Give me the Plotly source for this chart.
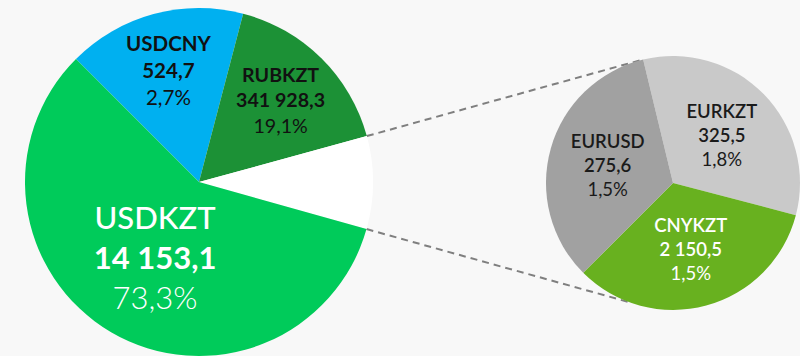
import plotly.graph_objects as go
import math

# ---- data -------------------------------------------------------------
main_pairs = ["USDCNY", "RUBKZT", "Other", "USDKZT"]
main_volume = [524.7, 341928.3, None, 14153.1]
main_percent = [2.7, 19.1, None, 73.3]
main_sweep = [59.7, 60.0, 31.0, 209.3]          # drawn sector sizes, degrees
main_colors = ["#00b0f0", "#1c9136", "#ffffff", "#00cb5a"]

detail_pairs = ["EURKZT", "CNYKZT", "EURUSD"]
detail_volume = [325.5, 2150.5, 275.6]
detail_percent = [1.8, 1.5, 1.5]
detail_sweep = [118.3, 120.3, 121.4]            # drawn sector sizes, degrees
detail_colors = ["#c9c9c9", "#68b11f", "#a1a1a1"]

# ---- layout geometry (pixels) ----------------------------------------
W, H = 800, 356
MAIN_C, MAIN_R, MAIN_START = (199, 182), 174, -45.0
DET_C, DET_R, DET_START = (673, 183), 127, -13.6
LINK_TARGET_ANGLES = [345.0, 200.4]


def fmt(v, decimals=1):
    s = f"{v:,.{decimals}f}"
    return s.replace(",", " ").replace(".", ",")


def domain(center, r):
    cx, cy = center
    return dict(x=[max(0, (cx - r) / W), min(1, (cx + r) / W)],
                y=[max(0, (H - cy - r) / H), min(1, (H - cy + r) / H)])


def label(pair, vol, pct, big=False):
    if vol is None:
        return ""
    if big:
        return (f"<span style='font-weight:500'>{pair}</span><br>"
                f"<b>{fmt(vol)}</b><br>"
                f"<span style='font-weight:300'>{fmt(pct)}%</span>")
    return f"<b>{pair}</b><br><b>{fmt(vol)}</b><br>{fmt(pct)}%"


main_text = [label(p, v, c, big=(p == "USDKZT"))
             for p, v, c in zip(main_pairs, main_volume, main_percent)]
detail_text = [f"<span style='font-weight:600'>{p}</span><br>"
               f"<span style='font-weight:600'>{fmt(v)}</span><br>{fmt(c)}%"
               for p, v, c in zip(detail_pairs, detail_volume, detail_percent)]

fig = go.Figure()

fig.add_trace(go.Pie(
    labels=main_pairs, values=main_sweep, text=main_text,
    textinfo="text", textposition="inside", insidetextorientation="horizontal",
    sort=False, direction="clockwise", rotation=MAIN_START,
    marker=dict(colors=main_colors, line=dict(width=0)),
    textfont=dict(family="Lato", size=[21, 21, 21, 31],
                  color=["#111111", "#111111", "#111111", "#ffffff"]),
    domain=domain(MAIN_C, MAIN_R), hoverinfo="skip", showlegend=False,
))

fig.add_trace(go.Pie(
    labels=detail_pairs, values=detail_sweep, text=detail_text,
    textinfo="text", textposition="inside", insidetextorientation="horizontal",
    sort=False, direction="clockwise", rotation=DET_START,
    marker=dict(colors=detail_colors, line=dict(width=0)),
    textfont=dict(family="Lato", size=18.5,
                  color=["#1a1a1a", "#ffffff", "#1a1a1a"]),
    domain=domain(DET_C, DET_R), hoverinfo="skip", showlegend=False,
))


# ---- dashed connectors from the "other" sector to the detail pie ------
def point(center, r, angle_deg):
    a = math.radians(angle_deg)
    x = center[0] + r * math.sin(a)
    y = center[1] - r * math.cos(a)
    return x / W, (H - y) / H


other_idx = main_pairs.index("Other")
start = MAIN_START + sum(main_sweep[:other_idx])
edges = [start, start + main_sweep[other_idx]]
for edge, target in zip(edges, LINK_TARGET_ANGLES):
    x0, y0 = point(MAIN_C, MAIN_R, edge)
    x1, y1 = point(DET_C, DET_R, target)
    fig.add_shape(type="line", xref="paper", yref="paper",
                  x0=x0, y0=y0, x1=x1, y1=y1, layer="below",
                  line=dict(color="#7f7f7f", width=2, dash="7px,5px"))

fig.update_layout(
    width=W, height=H, margin=dict(l=0, r=0, t=0, b=0),
    paper_bgcolor="#f8f8f8", plot_bgcolor="#f8f8f8",
    font=dict(family="Lato"),
)

fig.write_html("out.html")
